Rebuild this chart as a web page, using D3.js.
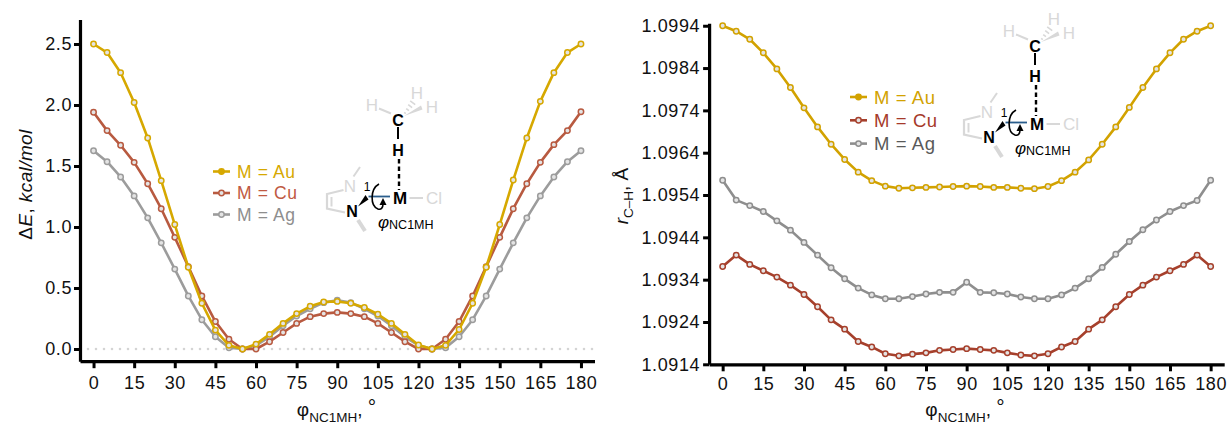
<!DOCTYPE html>
<html>
<head>
<meta charset="utf-8">
<script src="https://cdn.jsdelivr.net/npm/d3@7"></script>
<style>
  body { margin: 0; background: #fff; }
  svg { display: block; font-family: "Liberation Sans", Arial, Helvetica, sans-serif; }
</style>
</head>
<body>
<svg id="chart" width="1229" height="430"></svg>
<script>
// torsion angle, degrees
const angles = [0, 5, 10, 15, 20, 25, 30, 35, 40, 45, 50, 55, 60, 65, 70, 75, 80, 85, 90,
  95, 100, 105, 110, 115, 120, 125, 130, 135, 140, 145, 150, 155, 160, 165, 170, 175, 180];

// left panel: relative energy, kcal/mol
const dEAu = [2.50, 2.43, 2.265, 2.02, 1.73, 1.38, 1.02, 0.67, 0.375, 0.155, 0.03, 0.0, 0.04,
  0.12, 0.21, 0.29, 0.35, 0.385, 0.39, 0.375, 0.34, 0.285, 0.21, 0.12, 0.033, 0.0, 0.03,
  0.16, 0.375, 0.67, 1.02, 1.385, 1.73, 2.03, 2.265, 2.43, 2.50];
const dECu = [1.94, 1.79, 1.67, 1.53, 1.355, 1.15, 0.915, 0.675, 0.435, 0.225, 0.08, 0.0, 0.0,
  0.06, 0.135, 0.21, 0.265, 0.29, 0.30, 0.29, 0.265, 0.21, 0.135, 0.06, 0.0, 0.0, 0.08,
  0.225, 0.435, 0.675, 0.915, 1.15, 1.355, 1.53, 1.675, 1.79, 1.945];
const dEAg = [1.625, 1.535, 1.41, 1.255, 1.075, 0.87, 0.655, 0.435, 0.24, 0.10, 0.01, 0.0, 0.03,
  0.10, 0.19, 0.27, 0.33, 0.38, 0.40, 0.38, 0.33, 0.27, 0.19, 0.10, 0.03, 0.0, 0.01,
  0.10, 0.24, 0.435, 0.655, 0.87, 1.075, 1.255, 1.41, 1.535, 1.625];

// right panel: C-H bond length, angstrom
const rAu = [1.09940, 1.09927, 1.09908, 1.09876, 1.09838, 1.09794, 1.09746, 1.09701, 1.09660,
  1.09624, 1.09594, 1.09574, 1.09561, 1.09556, 1.09557, 1.09558, 1.09559, 1.09560, 1.09561,
  1.09560, 1.09558, 1.09558, 1.09556, 1.09555, 1.09560, 1.09574, 1.09594, 1.09623, 1.09660,
  1.09701, 1.09747, 1.09794, 1.09838, 1.09876, 1.09908, 1.09927, 1.09940];
const rCu = [1.09371, 1.09398, 1.09376, 1.09361, 1.09346, 1.09327, 1.09305, 1.09276, 1.09245,
  1.09223, 1.09194, 1.09181, 1.09165, 1.09160, 1.09164, 1.09167, 1.09173, 1.09175, 1.09177,
  1.09175, 1.09173, 1.09167, 1.09162, 1.09160, 1.09165, 1.09181, 1.09194, 1.09223, 1.09245,
  1.09276, 1.09305, 1.09327, 1.09346, 1.09361, 1.09376, 1.09398, 1.09371];
const rAg = [1.09575, 1.09528, 1.09515, 1.09501, 1.09479, 1.09457, 1.09428, 1.09398, 1.09368,
  1.09342, 1.09320, 1.09304, 1.09295, 1.09295, 1.09300, 1.09306, 1.09310, 1.09310, 1.09334,
  1.09310, 1.09309, 1.09306, 1.09299, 1.09295, 1.09295, 1.09304, 1.09320, 1.09342, 1.09369,
  1.09400, 1.09430, 1.09458, 1.09481, 1.09501, 1.09515, 1.09527, 1.09575];

// tick labels
const xTicks = [0, 15, 30, 45, 60, 75, 90, 105, 120, 135, 150, 165, 180];
const dETicks = [0.0, 0.5, 1.0, 1.5, 2.0, 2.5];
const rTicks = [1.0914, 1.0924, 1.0934, 1.0944, 1.0954, 1.0964, 1.0974, 1.0984, 1.0994];
const legendNames = ['M = Au', 'M = Cu', 'M = Ag'];

const svg = d3.select('#chart');

function drawPanel(cfg) {
  const x = d3.scaleLinear().domain([-5, 185]).range(cfg.xRange);
  const y = d3.scaleLinear().domain(cfg.yDomain).range(cfg.yRange);
  const g = svg.append('g');

  // zero reference line
  if (cfg.zeroLine) {
    g.append('line')
      .attr('x1', x(-5) + 8).attr('x2', x(185))
      .attr('y1', y(0)).attr('y2', y(0))
      .attr('stroke', '#d4d4d4')
      .attr('stroke-width', 2.6)
      .attr('stroke-linecap', 'round')
      .attr('stroke-dasharray', '0 8');
  }

  // axes
  const xAxis = g.append('g')
    .attr('transform', `translate(0,${cfg.yRange[0]})`)
    .call(d3.axisBottom(x).tickValues(xTicks).tickSize(7).tickPadding(cfg.xPad).tickSizeOuter(0));
  const yAxis = g.append('g')
    .attr('transform', `translate(${cfg.xRange[0]},0)`)
    .call(d3.axisLeft(y).tickValues(cfg.yTicks).tickFormat(d3.format(cfg.yFormat))
      .tickSize(6).tickPadding(cfg.yPad).tickSizeOuter(0));
  [xAxis, yAxis].forEach(a => {
    a.select('.domain').attr('stroke', '#000').attr('stroke-width', 3.2);
    a.selectAll('.tick line').attr('stroke', '#000').attr('stroke-width', 3);
    a.selectAll('.tick text')
      .attr('fill', '#111')
      .style('font-family', '"Liberation Sans", Arial, sans-serif')
      .style('font-size', '18px')
      .style('letter-spacing', '0.6px');
  });

  // series, drawn back to front
  const line = d3.line().x((d, i) => x(angles[i])).y(d => y(d));
  cfg.series.slice().reverse().forEach(s => {
    g.append('path')
      .datum(s.values)
      .attr('fill', 'none')
      .attr('stroke', s.color)
      .attr('stroke-width', 2.6)
      .attr('stroke-linejoin', 'round')
      .attr('d', line);
    g.selectAll(null)
      .data(s.values)
      .enter()
      .append('circle')
      .attr('cx', (d, i) => x(angles[i]))
      .attr('cy', d => y(d))
      .attr('r', 2.7)
      .attr('fill', '#e4e4e4')
      .attr('stroke', s.color)
      .attr('stroke-width', 1.5);
  });

  // legend
  const lg = g.append('g');
  cfg.series.forEach((s, i) => {
    const ly = cfg.legend.y + i * cfg.legend.dy;
    lg.append('line')
      .attr('x1', cfg.legend.x).attr('x2', cfg.legend.x + 17)
      .attr('y1', ly).attr('y2', ly)
      .attr('stroke', s.color).attr('stroke-width', 2.6);
    lg.append('circle')
      .attr('cx', cfg.legend.x + 8.5).attr('cy', ly).attr('r', 2.7)
      .attr('fill', i === 0 ? s.color : '#e4e4e4')
      .attr('stroke', s.color).attr('stroke-width', 1.5);
    lg.append('text')
      .attr('x', cfg.legend.x + 24).attr('y', ly)
      .attr('dy', '0.36em')
      .attr('fill', s.text)
      .style('font-size', cfg.legend.size + 'px')
      .style('letter-spacing', '0.6px')
      .text(legendNames[i]);
  });

  // x axis title
  const xt = g.append('text')
    .attr('x', cfg.xTitle[0]).attr('y', cfg.xTitle[1])
    .attr('text-anchor', 'middle')
    .attr('fill', '#111')
    .style('font-size', '19px');
  xt.append('tspan').text('φ');
  xt.append('tspan').attr('dy', 6).style('font-size', '13.5px').text('NC1MH');
  xt.append('tspan').attr('dy', -6).text(', ');
  xt.append('tspan').attr('dy', -2).style('font-size', '21px').text('°');

  cfg.yTitle(g);
}

const panels = [
  {
    xRange: [80, 594.5], yDomain: [-0.1, 2.7], yRange: [361.2, 19.6],
    yTicks: dETicks, yFormat: '.1f', xPad: 8, yPad: 2, zeroLine: true,
    series: [
      { values: dEAu, color: '#d6a800', text: '#d6a800' },
      { values: dECu, color: '#b85a40', text: '#c05a42' },
      { values: dEAg, color: '#9c9c9c', text: '#8e8e8e' }
    ],
    legend: { x: 213, y: 171.5, dy: 21.5, size: 17.5 },
    xTitle: [336.5, 416],
    yTitle: g => {
      const t = g.append('text')
        .attr('transform', 'translate(32,184.5) rotate(-90)')
        .attr('text-anchor', 'middle')
        .attr('fill', '#111')
        .style('font-size', '19px')
        .style('letter-spacing', '0.4px');
      t.append('tspan').text('Δ');
      t.append('tspan').style('font-style', 'italic').text('E');
      t.append('tspan').text(', ');
      t.append('tspan').style('font-style', 'italic').text('kcal/mol');
    }
  },
  {
    xRange: [709.1, 1224.2], yDomain: [1.0914, 1.09946], yRange: [364.3, 23.2],
    yTicks: rTicks, yFormat: '.4f', xPad: 6, yPad: 3, zeroLine: false,
    series: [
      { values: rAu, color: '#d2a200', text: '#d2a200' },
      { values: rCu, color: '#a6402c', text: '#a63a2a' },
      { values: rAg, color: '#8e8e8e', text: '#595959' }
    ],
    legend: { x: 850, y: 97, dy: 23.3, size: 18.5 },
    xTitle: [965, 416],
    yTitle: g => {
      const t = g.append('text')
        .attr('transform', 'translate(628,196) rotate(-90)')
        .attr('text-anchor', 'middle')
        .attr('fill', '#111')
        .style('font-size', '19px');
      t.append('tspan').style('font-style', 'italic').text('r');
      t.append('tspan').attr('dy', 5).style('font-size', '13.5px').text('C–H');
      t.append('tspan').attr('dy', -5).text(', Å');
    }
  }
];

panels.forEach(drawPanel);

// structure sketch, coordinates relative to the metal atom
function drawMolecule(mx, my) {
  const g = svg.append('g').attr('transform', `translate(${mx},${my})`);
  const faint = '#d8d8d8';
  const label = (tx, ty, txt, opts = {}) => g.append('text')
    .attr('x', tx).attr('y', ty).attr('dy', '0.36em')
    .attr('text-anchor', opts.anchor || 'middle')
    .attr('fill', opts.color || '#000')
    .style('font-size', (opts.size || 16) + 'px')
    .style('font-weight', opts.bold ? 'bold' : 'normal')
    .text(txt);
  const bond = (x1, y1, x2, y2, color, w, dash) => g.append('line')
    .attr('x1', x1).attr('y1', y1).attr('x2', x2).attr('y2', y2)
    .attr('stroke', color).attr('stroke-width', w)
    .attr('stroke-dasharray', dash || null);

  // methyl group
  label(-28, -93, 'H', { color: faint, size: 17 });
  label(17, -105, 'H', { color: faint, size: 17 });
  label(32, -91, 'H', { color: faint, size: 17 });
  bond(-21, -89.5, -9, -84.5, faint, 2);
  g.append('polygon').attr('points', '4,-82 21,-92.5 22.5,-88.5').attr('fill', faint);
  [0, 1, 2, 3].forEach(k => {
    const t = k / 3.5;
    const cx = 5 + t * 9, cy = -85 - t * 12, hw = 1 + t * 2.5;
    bond(cx - hw * 0.8, cy - hw * 0.6, cx + hw * 0.8, cy + hw * 0.6, faint, 1.6);
  });
  label(-2, -78, 'C', { bold: true, size: 16 });
  bond(-2, -71, -2, -59, '#000', 2);
  label(-2, -47.5, 'H', { bold: true, size: 16 });
  bond(-1, -39, -1, -8, '#000', 2.4, '4.5 3');

  // metal and chloride
  label(0, 0, 'M', { bold: true, size: 17 });
  bond(9.5, 0, 23, 0, faint, 2);
  label(34, 0, 'Cl', { color: faint, size: 17 });

  // carbene ring
  g.append('polyline')
    .attr('points', '-56.5,-8 -73,-4 -73,10.5 -55,14.5')
    .attr('fill', 'none').attr('stroke', faint).attr('stroke-width', 2.2);
  bond(-68.5, -1, -68.5, 8.5, faint, 2);
  bond(-46.5, -21.5, -40, -31, faint, 2);
  bond(-42, 22, -35, 33, faint, 4);
  label(-50, -12, 'N', { color: faint, size: 17 });
  label(-48, 13.5, 'N', { bold: true, size: 16 });
  g.append('polygon').attr('points', '-42,8.5 -34.5,-3 -31.5,1.5').attr('fill', '#000');
  bond(-31.5, -1.5, -10, -1.5, '#2a5d8c', 1.8);
  label(-33, -11, '1', { size: 12 });

  // rotation arrow
  g.append('path')
    .attr('d', 'M -21,-14 C -30,-9 -30,8 -22,11 C -19,12 -17,10 -17,6')
    .attr('fill', 'none').attr('stroke', '#000').attr('stroke-width', 1.6);
  g.append('polygon').attr('points', '-17,0 -20.5,7 -13.5,7').attr('fill', '#000');

  const phi = g.append('text').attr('x', -22).attr('y', 30).attr('fill', '#000');
  phi.append('tspan').style('font-size', '17px').style('font-style', 'italic').text('φ');
  phi.append('tspan').attr('dy', 1).style('font-size', '12.5px').text('NC1MH');
}

drawMolecule(400, 198);
drawMolecule(1037, 124);
</script>
</body>
</html>
